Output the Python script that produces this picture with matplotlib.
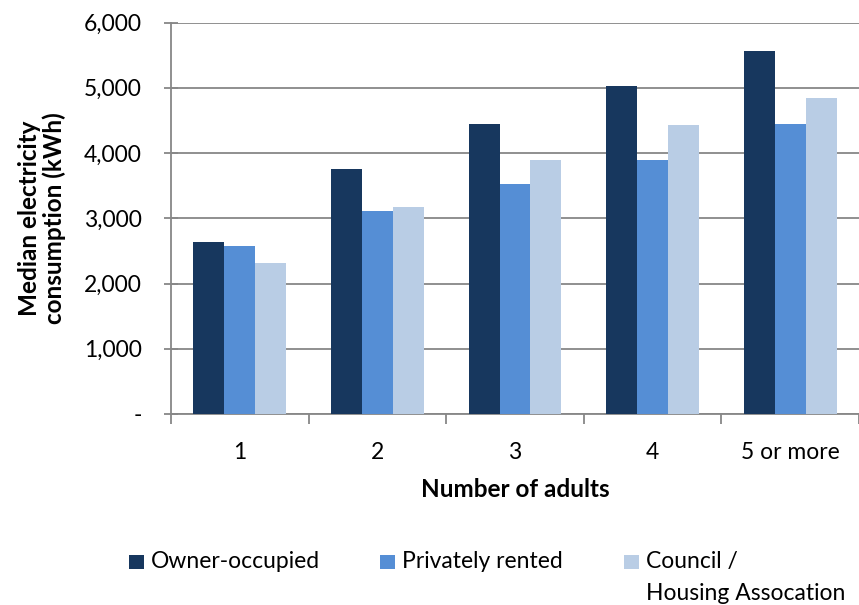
import numpy as np
import matplotlib.pyplot as plt
from matplotlib.patches import Rectangle
from matplotlib.ticker import FuncFormatter, FixedLocator

plt.rcParams['font.family'] = ['Lato', 'DejaVu Sans']

categories = ["1", "2", "3", "4", "5 or more"]
owner_occupied = [2640, 3750, 4440, 5030, 5570]
privately_rented = [2570, 3110, 3530, 3890, 4450]
council_housing = [2310, 3180, 3890, 4430, 4850]
series_names = ["Owner-occupied", "Privately rented", "Council /\nHousing Assocation"]
colors = ["#17375E", "#558ED5", "#B9CDE5"]

GRID = "#878787"
FS = 16.5
FS_BOLD = 17.5

fig = plt.figure(figsize=(8.59, 6.05), dpi=100)
ax = fig.add_axes([171 / 859, 1 - 414 / 605, 688 / 859, (414 - 22.5) / 605])

x = np.arange(len(categories))
w = 0.225
for i, vals in enumerate([owner_occupied, privately_rented, council_housing]):
    ax.bar(x + (i - 1) * w, vals, width=w, color=colors[i], zorder=3,
           linewidth=0)

ax.set_xlim(-0.5, len(categories) - 0.5)
ax.set_ylim(0, 6000)
ax.set_yticks(np.arange(0, 6001, 1000))
ax.yaxis.set_major_formatter(FuncFormatter(
    lambda v, p: "-" if v == 0 else f"{int(v):,}"))
ax.grid(axis="y", color=GRID, linewidth=1.3, zorder=0)

ax.set_xticks(x)
ax.set_xticklabels(categories)
ax.xaxis.set_minor_locator(FixedLocator(np.arange(-0.5, len(categories), 1.0)))
ax.tick_params(axis="x", which="major", length=0, pad=20, labelsize=FS)
ax.tick_params(axis="x", which="minor", length=7, width=1.3, color=GRID,
               direction="out")
ax.tick_params(axis="y", direction="inout", length=10, width=1.3,
               color=GRID, pad=16, labelsize=FS)

for s in ["top", "right"]:
    ax.spines[s].set_visible(False)
for s in ["left", "bottom"]:
    ax.spines[s].set_color(GRID)
    ax.spines[s].set_linewidth(1.3)

ax.set_ylabel("Median electricity\nconsumption (kWh)", fontsize=FS_BOLD,
              fontweight="bold", linespacing=1.1)
ax.yaxis.set_label_coords(-0.152, 0.5)
ax.set_xlabel("Number of adults", fontsize=FS_BOLD, fontweight="bold",
              labelpad=11)

# legend drawn by hand so the wrapped label lines up like the original
legend_x = [129, 380, 624]
for i, name in enumerate(series_names):
    fig.add_artist(Rectangle((legend_x[i] / 859, 1 - 569 / 605),
                             14.5 / 859, 14.5 / 605,
                             transform=fig.transFigure,
                             color=colors[i], linewidth=0))
    for j, line in enumerate(name.split("\n")):
        fig.text((legend_x[i] + 22) / 859, 1 - (568 + 32 * j) / 605, line,
                 fontsize=FS, ha="left", va="baseline")

fig.savefig("out.png", dpi=100, facecolor="white")
